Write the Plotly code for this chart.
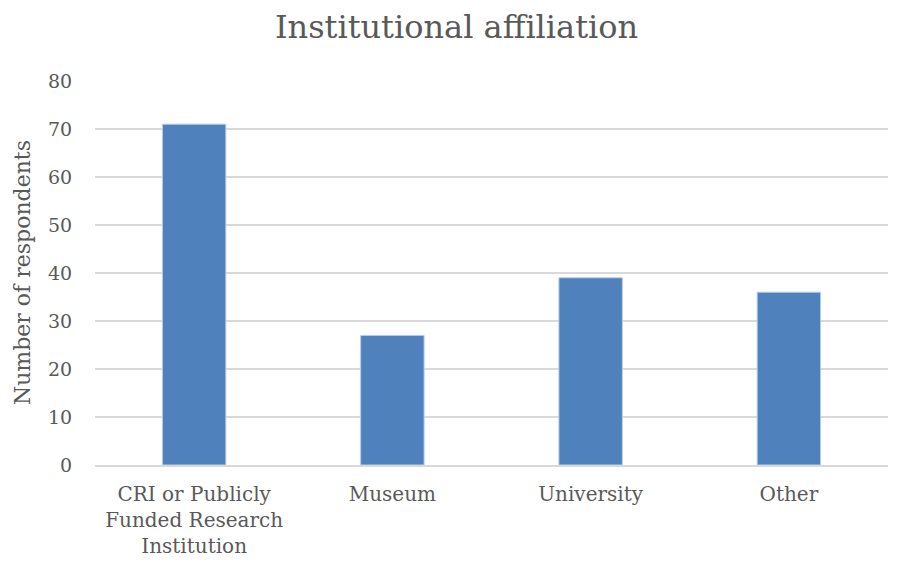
import plotly.graph_objects as go

categories = ["CRI or Publicly<br>Funded Research<br>Institution", "Museum", "University", "Other"]
values = [71, 27, 39, 36]
y_ticks = [0, 10, 20, 30, 40, 50, 60, 70, 80]

FONT = "DejaVu Serif"
TXT = "#595959"

fig = go.Figure(go.Bar(
    x=categories, y=values,
    marker=dict(color="#4F81BD", line=dict(color="#B9CDE5", width=1)),
    width=0.32,
))

# page body has an 8px default margin, so the figure is sized/offset to compensate
fig.update_layout(
    width=897, height=555,
    paper_bgcolor="white", plot_bgcolor="white",
    margin=dict(l=87, r=17, t=73, b=98, autoexpand=False),
    title=dict(text="Institutional affiliation", x=0.5, xanchor="center",
               y=0.966, yanchor="middle",
               font=dict(family=FONT, size=32, color=TXT)),
    font=dict(family=FONT, color=TXT, size=20),
    showlegend=False,
    annotations=[dict(text="Number of respondents", xref="paper", yref="paper",
                      x=-0.092, y=0.5, xanchor="center", yanchor="middle",
                      textangle=-90, showarrow=False,
                      font=dict(family=FONT, size=22, color=TXT))],
)
fig.update_xaxes(showline=True, linecolor="#D9D9D9", linewidth=1.5,
                 ticks="outside", ticklen=10, tickcolor="white",
                 tickfont=dict(family=FONT, size=20, color=TXT))
fig.update_yaxes(range=[0, 80], tickvals=y_ticks, showgrid=True,
                 gridcolor="#D9D9D9", gridwidth=1.5, zeroline=False,
                 ticks="outside", ticklen=18, tickcolor="white",
                 tickfont=dict(family=FONT, size=19, color=TXT))

fig.write_html("out.html")
